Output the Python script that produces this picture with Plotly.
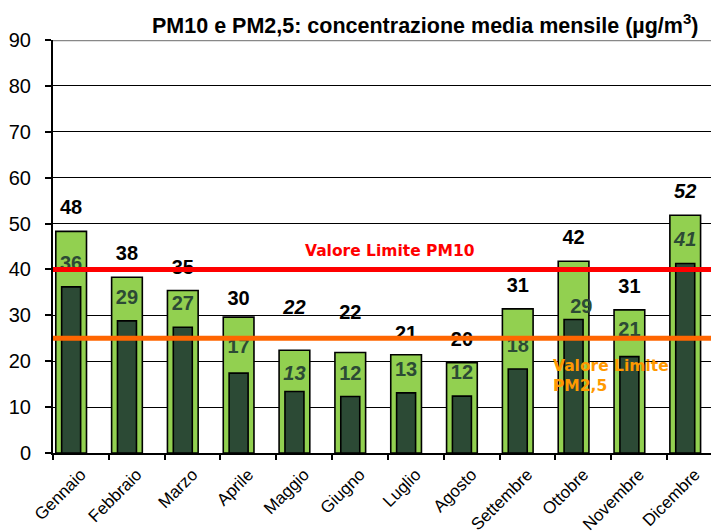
import plotly.graph_objects as go
import numpy as np

# ---- data ----
months = ["Gennaio", "Febbraio", "Marzo", "Aprile", "Maggio", "Giugno",
          "Luglio", "Agosto", "Settembre", "Ottobre", "Novembre", "Dicembre"]
pm10 = [48.3, 38.3, 35.4, 29.6, 22.4, 21.9, 21.4, 19.7, 31.4, 41.8, 31.2, 51.8]
pm25 = [36.2, 28.8, 27.4, 17.4, 13.4, 12.3, 13.1, 12.4, 18.3, 29.1, 21.0, 41.3]
limit_pm10 = 40
limit_pm25 = 25
y_ticks = [0, 10, 20, 30, 40, 50, 60, 70, 80, 90]

# ---- style ----
# the page body has an 8px margin, so the figure is sized to fit the 719x531 window
W, H = 711, 523
ML, MR, MT, MB = 45, 0, 32, 78
YMAX = 90
plot_h = H - MT - MB
plot_w = W - ML - MR
px_per_unit = plot_h / YMAX
XR = [-0.5, 11.43]
LIGHT = "#92d050"
DARK = "#2c4a35"
FONT = "Liberation Sans, Arial, sans-serif"
VFONT = "DejaVu Sans, Verdana, sans-serif"
italic_months = {"Maggio", "Dicembre"}
pm10_shift = {m: 22 for m in months}
pm10_shift.update({"Aprile": 17, "Maggio": 41, "Giugno": 39, "Luglio": 20})
pm25_shift = {m: 22 for m in months}
pm25_shift.update({"Aprile": 25, "Maggio": 17, "Ottobre": 11, "Novembre": 26})
bar_center = -0.175
pm25_label_dx = {"Ottobre": 0.14}


def label(v, m):
    t = str(round(v))
    if m in italic_months:
        t = "<i>" + t + "</i>"
    return "<b>" + t + "</b>"


idx = np.arange(len(months))

fig = go.Figure()
fig.add_trace(go.Bar(x=months, y=pm10, marker=dict(color=LIGHT, line=dict(color="black", width=1.6)),
                     width=0.55, offset=-0.45, hoverinfo="skip"))
fig.add_trace(go.Bar(x=months, y=pm25, marker=dict(color=DARK, line=dict(color="black", width=1.6)),
                     width=0.34, offset=-0.345, hoverinfo="skip"))

# data labels (overlay numeric axis aligned with the category axis)
fig.add_trace(go.Scatter(
    x=idx + bar_center,
    y=[v + pm10_shift[m] / px_per_unit for v, m in zip(pm10, months)],
    text=[label(v, m) for v, m in zip(pm10, months)],
    mode="text", textposition="middle center",
    textfont=dict(family=FONT, size=20, color="black"),
    xaxis="x2", cliponaxis=False, hoverinfo="skip"))
fig.add_trace(go.Scatter(
    x=idx + bar_center + np.array([pm25_label_dx.get(m, 0) for m in months]),
    y=[v + pm25_shift[m] / px_per_unit for v, m in zip(pm25, months)],
    text=[label(v, m) for v, m in zip(pm25, months)],
    mode="text", textposition="middle center",
    textfont=dict(family=FONT, size=20, color=DARK),
    xaxis="x2", cliponaxis=False, hoverinfo="skip"))

# limit lines
fig.add_trace(go.Scatter(x=XR, y=[limit_pm10, limit_pm10], mode="lines",
                         line=dict(color="#ff0000", width=5), xaxis="x2", hoverinfo="skip"))
fig.add_trace(go.Scatter(x=XR, y=[limit_pm25, limit_pm25], mode="lines",
                         line=dict(color="#ff6600", width=5), xaxis="x2", hoverinfo="skip"))

fig.add_annotation(x=(390 - 8 - ML) / plot_w, xref="paper", y=limit_pm10, yref="y", yshift=18,
                   text="<b>Valore Limite PM10</b>", showarrow=False,
                   font=dict(family=VFONT, size=15.5, color="#ff0000"))
fig.add_annotation(x=(551 - 8 - ML) / plot_w, xref="paper", xanchor="left",
                   y=limit_pm25, yref="y", yanchor="top", yshift=-17, align="left",
                   text="<b>Valore Limite<br>PM2,5</b>", showarrow=False,
                   font=dict(family=VFONT, size=15.5, color="#ff9900"))

fig.add_annotation(x=(701 - 8 - ML) / plot_w, xref="paper", xanchor="right",
                   y=1 + (MT - 16) / plot_h, yref="paper", yanchor="middle",
                   text="<b>PM10 e PM2,5: concentrazione media mensile (µg/m<sup>3</sup>)</b>",
                   showarrow=False, font=dict(family=FONT, size=21.5, color="black"))

fig.add_shape(type="line", xref="paper", x0=0, x1=1, yref="y", y0=YMAX, y1=YMAX,
              line=dict(color="#888888", width=2.5), layer="above")

fig.update_layout(
    width=W, height=H, margin=dict(l=ML, r=MR, t=MT, b=MB, autoexpand=False),
    paper_bgcolor="white", plot_bgcolor="white",
    barmode="overlay", showlegend=False,
    xaxis=dict(type="category", range=XR, tickangle=-45, showline=True, linecolor="black",
               linewidth=2, ticks="outside", tickson="boundaries", ticklen=5, tickcolor="black",
               tickwidth=1.5, showgrid=False, ticklabelstandoff=3, automargin=False,
               tickfont=dict(family=FONT, size=17, color="black")),
    xaxis2=dict(overlaying="x", range=XR, visible=False, fixedrange=True),
    yaxis=dict(range=[0, YMAX], tickvals=y_ticks, showline=True, linecolor="black", linewidth=2,
               ticks="outside", ticklen=6, tickcolor="black", tickwidth=1.5,
               showgrid=True, gridcolor="black", gridwidth=1.3, zeroline=False,
               ticklabelstandoff=10, automargin=False,
               tickfont=dict(family=FONT, size=20, color="black")),
)

fig.write_html("out.html")
